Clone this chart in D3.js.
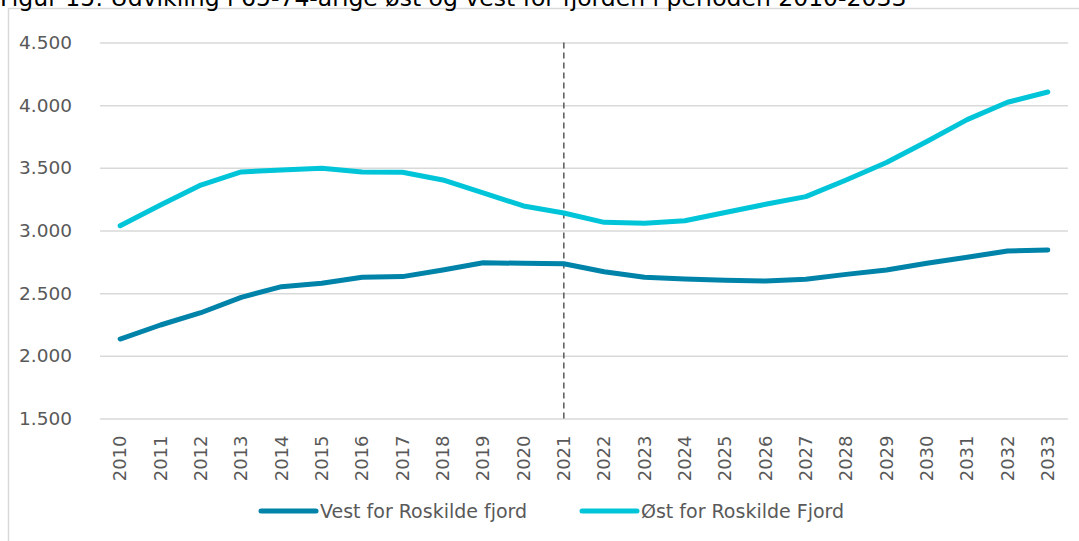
<!DOCTYPE html>
<html>
<head>
<meta charset="utf-8">
<script src="https://cdn.jsdelivr.net/npm/d3@7"></script>
<style>
  body { margin: 0; background: #fff; }
  svg { display: block; }
</style>
</head>
<body>
<div id="chart"></div>
<script>
// years on the x axis
var years = ["2010","2011","2012","2013","2014","2015","2016","2017","2018","2019","2020","2021",
	"2022","2023","2024","2025","2026","2027","2028","2029","2030","2031","2032","2033"];
// 65-74 year olds west of the fjord
var vest = [2134, 2246, 2344, 2467, 2552, 2579, 2627, 2632, 2685, 2743, 2738, 2735,
	2671, 2627, 2613, 2603, 2597, 2611, 2650, 2685, 2738, 2786, 2836, 2844];
// ... and east of the fjord
var oest = [3038, 3203, 3363, 3467, 3483, 3497, 3467, 3465, 3403, 3300, 3196, 3140,
	3065, 3057, 3078, 3144, 3209, 3270, 3403, 3542, 3710, 3885, 4023, 4105];
var seriesNames = ["Vest for Roskilde fjord", "Øst for Roskilde Fjord"];
var seriesColors = ["#0083a9", "#00c5d9"];
var yTicks = [1500, 2000, 2500, 3000, 3500, 4000, 4500];
var markerYear = "2021";
var title = "Figur 15: Udvikling i 65-74-årige øst og vest for fjorden i perioden 2010-2033";

var W = 1079, H = 541;
var plotLeft = 100, plotRight = 1068, plotTop = 42.5, plotBottom = 418.5;

var svg = d3.select("#chart").append("svg")
	.attr("width", W)
	.attr("height", H);

// chart frame, runs off the right and bottom of the picture
svg.append("rect")
	.attr("x", 8.5).attr("y", 8.5)
	.attr("width", W + 20).attr("height", H + 20)
	.style("fill", "none")
	.style("stroke", "#d9d9d9")
	.style("stroke-width", 1.5);

// title, clipped at the top like the source
svg.append("text")
	.attr("x", 0).attr("y", 6)
	.style("font-family", "Verdana, 'DejaVu Sans', sans-serif")
	.style("font-size", "23.5px")
	.style("fill", "#000")
	.text(title);

var x = d3.scaleBand().domain(years).range([plotLeft, plotRight]).padding(0);
var y = d3.scaleLinear().domain([1500, 4500]).range([plotBottom, plotTop]);

var locale = d3.formatLocale({decimal: ",", thousands: ".", grouping: [3], currency: ["", " kr"]});
var fmt = locale.format(",");

//Gridlines + y labels
var yAxis = svg.append("g")
	.attr("transform", "translate(" + plotLeft + ",0)")
	.call(d3.axisLeft(y).tickValues(yTicks).tickFormat(fmt)
		.tickSize(-(plotRight - plotLeft)).tickPadding(28));
yAxis.select(".domain").remove();
yAxis.selectAll(".tick line")
	.style("stroke", "#d9d9d9")
	.style("stroke-width", 1.5);
yAxis.selectAll(".tick text")
	.style("font-family", "'DejaVu Sans', sans-serif")
	.style("font-size", "18.5px")
	.style("fill", "#595959");

//x labels, rotated
var xAxis = svg.append("g")
	.attr("transform", "translate(0," + plotBottom + ")")
	.call(d3.axisBottom(x).tickSize(0));
xAxis.select(".domain").remove();
xAxis.selectAll(".tick text")
	.attr("transform", "rotate(-90)")
	.attr("x", -17)
	.attr("y", 0)
	.attr("dy", "0.35em")
	.style("text-anchor", "end")
	.style("font-family", "'DejaVu Sans', sans-serif")
	.style("font-size", "18px")
	.style("fill", "#595959");

//dashed marker
var mx = x(markerYear) + x.bandwidth() / 2;
svg.append("line")
	.attr("x1", mx).attr("x2", mx)
	.attr("y1", y(4500)).attr("y2", y(1500))
	.style("stroke", "#595959")
	.style("stroke-width", 1.5)
	.style("stroke-dasharray", "6,4");

var line = d3.line()
	.x(function(d, i) { return x(years[i]) + x.bandwidth() / 2; })
	.y(function(d) { return y(d); });

[vest, oest].forEach(function(values, i) {
	svg.append("path")
		.datum(values)
		.attr("d", line)
		.style("fill", "none")
		.style("stroke", seriesColors[i])
		.style("stroke-width", 5)
		.style("stroke-linejoin", "round")
		.style("stroke-linecap", "round");
});

//Legend
var legendX = [261, 582], legendY = 511;
seriesNames.forEach(function(name, i) {
	svg.append("line")
		.attr("x1", legendX[i]).attr("x2", legendX[i] + 55)
		.attr("y1", legendY).attr("y2", legendY)
		.style("stroke", seriesColors[i])
		.style("stroke-width", 5)
		.style("stroke-linecap", "round");
	svg.append("text")
		.attr("x", legendX[i] + 59)
		.attr("y", legendY)
		.attr("dy", "0.35em")
		.style("font-family", "'DejaVu Sans', sans-serif")
		.style("font-size", "19px")
		.style("fill", "#595959")
		.text(name);
});
</script>
</body>
</html>
